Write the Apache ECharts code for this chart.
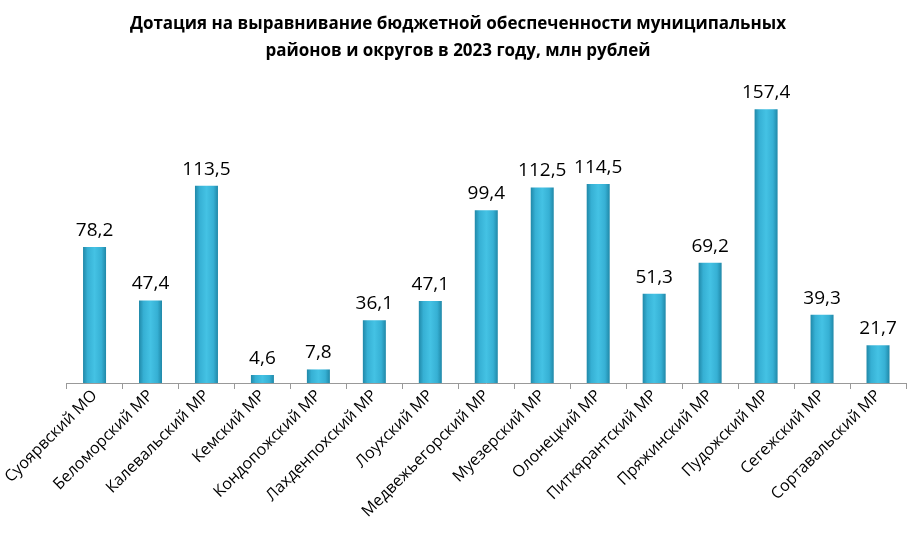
<!DOCTYPE html>
<html><head><meta charset="utf-8">
<script src="https://cdn.jsdelivr.net/npm/echarts@6/dist/echarts.min.js"></script>
<style>html,body{margin:0;padding:0;background:#fff}#c{width:916px;height:539px}</style>
</head><body><div id="c"></div>
<script>
const categories = ["Суоярвский МО","Беломорский МР","Калевальский МР","Кемский МР","Кондопожский МР","Лахденпохский МР","Лоухский МР","Медвежьегорский МР","Муезерский МР","Олонецкий МР","Питкярантский МР","Пряжинский МР","Пудожский МР","Сегежский МР","Сортавальский МР"];
const values = [78.2,47.4,113.5,4.6,7.8,36.1,47.1,99.4,112.5,114.5,51.3,69.2,157.4,39.3,21.7];
const titleText = "Дотация на выравнивание бюджетной обеспеченности муниципальных\nрайонов и округов в 2023 году, млн рублей";

const chart = echarts.init(document.getElementById('c'));
chart.setOption({
  backgroundColor:'#fff',
  title:{text:titleText,left:'center',top:6,textStyle:{fontFamily:'Open Sans',fontWeight:'bold',fontSize:17,lineHeight:27,color:'#000'}},
  grid:{left:64,right:10,top:70,bottom:156},
  xAxis:{type:'category',data:categories,
    axisLine:{lineStyle:{color:'#999',width:1}},
    axisTick:{show:true,length:6,lineStyle:{color:'#999'}},
    axisLabel:{rotate:45,interval:0,fontFamily:'Open Sans',fontSize:16,color:'#000',margin:10}},
  yAxis:{type:'value',min:0,max:180,show:false,splitLine:{show:false}},
  series:[{type:'bar',data:values,barWidth:23,
    itemStyle:{color:new echarts.graphic.LinearGradient(0,0,1,0,[
      {offset:0,color:'#2088a8'},{offset:0.2,color:'#36b0d4'},{offset:0.5,color:'#44c2e4'},{offset:0.8,color:'#36b0d4'},{offset:1,color:'#2088a8'}])},
    label:{show:true,position:'top',distance:7,fontFamily:'Open Sans',fontSize:19,color:'#000',
      formatter:p=>String(p.value).replace('.',',')}}]
});
</script></body></html>
